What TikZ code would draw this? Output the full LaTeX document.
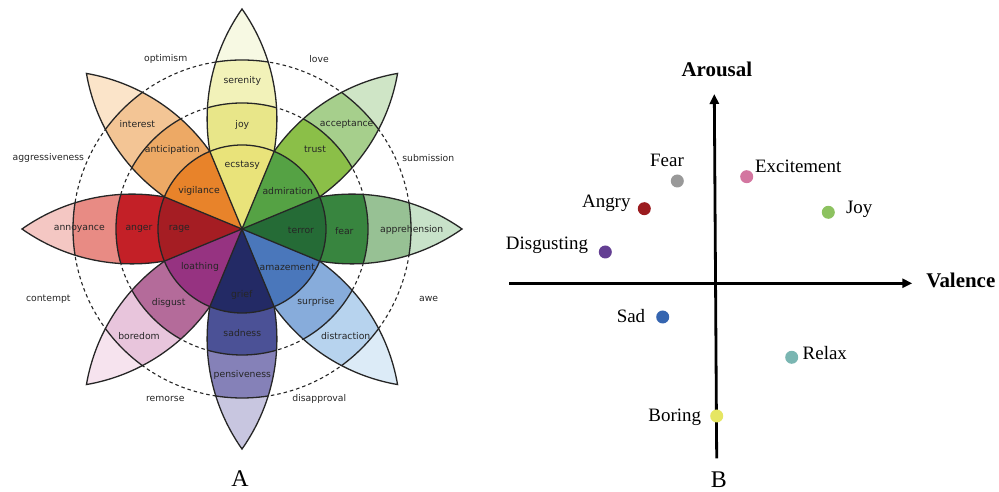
\documentclass[tikz,border=0pt]{standalone}
\usepackage{fontspec}
\setmainfont{Liberation Serif}
\newfontfamily\wheelfont{DejaVu Sans}
\usetikzlibrary{arrows.meta}
% inner ring
\definecolor{cEcst}{HTML}{E9E37A}\definecolor{cAdmi}{HTML}{55A244}
\definecolor{cTerr}{HTML}{256B36}\definecolor{cAmaz}{HTML}{4A77BB}
\definecolor{cGrie}{HTML}{232A65}\definecolor{cLoat}{HTML}{963381}
\definecolor{cRage}{HTML}{A51D23}\definecolor{cVigi}{HTML}{E8832A}
% second ring
\definecolor{cJoy}{HTML}{E8E689}\definecolor{cTrus}{HTML}{8BBF48}
\definecolor{cFear}{HTML}{38853F}\definecolor{cSurp}{HTML}{87ACDB}
\definecolor{cSadn}{HTML}{4B5196}\definecolor{cDisg}{HTML}{B46B9A}
\definecolor{cAnge}{HTML}{C32027}\definecolor{cAnti}{HTML}{EDA965}
% third ring
\definecolor{cSere}{HTML}{F2F2B9}\definecolor{cAcce}{HTML}{A6CF8C}
\definecolor{cAppr}{HTML}{97C194}\definecolor{cDist}{HTML}{B7D3EE}
\definecolor{cPens}{HTML}{8581B8}\definecolor{cBore}{HTML}{E8C5DC}
\definecolor{cAnno}{HTML}{E88B84}\definecolor{cInte}{HTML}{F3C595}
% tips
\definecolor{tJoy}{HTML}{F7F9E3}\definecolor{tTrus}{HTML}{CFE5C6}
\definecolor{tFear}{HTML}{C8E2C9}\definecolor{tSurp}{HTML}{DCEBF7}
\definecolor{tSadn}{HTML}{C8C6E0}\definecolor{tDisg}{HTML}{F6E3EE}
\definecolor{tAnge}{HTML}{F4C7C3}\definecolor{tAnti}{HTML}{FBE4C9}
% dots
\definecolor{dFear}{HTML}{999999}\definecolor{dExci}{HTML}{D376A0}
\definecolor{dAngr}{HTML}{9B1B1F}\definecolor{dJoy}{HTML}{8DC260}
\definecolor{dDisg}{HTML}{643F93}\definecolor{dSad}{HTML}{3565B0}
\definecolor{dRela}{HTML}{7AB6B2}\definecolor{dBori}{HTML}{E6E663}
\newcommand{\petalshape}{(0,0) arc[start angle=125.19,end angle=54.81,radius=190.88] arc[start angle=-54.81,end angle=-125.19,radius=190.88] -- cycle}
\newcommand{\mypetal}[4]{%
\begin{scope}[shift={(wc)},rotate=#1]
\fill[#2] \petalshape;
\begin{scope}\clip (0,0) circle[radius=169]; \fill[#3] \petalshape; \end{scope}
\begin{scope}\clip (0,0) circle[radius=126]; \fill[#4] \petalshape; \end{scope}
\begin{scope}\clip \petalshape; \draw[outline] (0,0) circle[radius=169] (0,0) circle[radius=126]; \end{scope}
\draw[outline] \petalshape;
\end{scope}}
\begin{document}
\begin{tikzpicture}[x=1bp,y=1bp,
  outline/.style={draw=black!85,line width=1.3bp},
  dashcirc/.style={draw=black!85,line width=1.1bp,dash pattern=on 3.5bp off 3bp},
  wlab/.style={font=\wheelfont\fontsize{9.3}{11}\selectfont,text=black!85,inner sep=0pt},
  blab/.style={font=\fontsize{19}{22}\selectfont,inner sep=0pt},
  axlab/.style={font=\bfseries\fontsize{21}{24}\selectfont,inner sep=0pt},
  panlab/.style={font=\fontsize{24}{28}\selectfont,inner sep=0pt},
  dot/.style={circle,inner sep=0pt,minimum size=13bp},
  axis/.style={line width=2.8bp,-{Triangle[length=10bp,width=9bp]}}]
\useasboundingbox (0,0) rectangle (999,492);
\fill[white] (0,0) rectangle (999,492);
% ---------- Panel A: wheel ----------
\coordinate (wc) at (242,263);
\draw[dashcirc] (wc) circle[radius=126];
\draw[dashcirc] (wc) circle[radius=169];
\mypetal{90}{tJoy}{cSere}{cJoy}
\mypetal{45}{tTrus}{cAcce}{cTrus}
\mypetal{0}{tFear}{cAppr}{cFear}
\mypetal{-45}{tSurp}{cDist}{cSurp}
\mypetal{-90}{tSadn}{cPens}{cSadn}
\mypetal{-135}{tDisg}{cBore}{cDisg}
\mypetal{180}{tAnge}{cAnno}{cAnge}
\mypetal{135}{tAnti}{cInte}{cAnti}
\foreach \a/\c in {90/cEcst,45/cAdmi,0/cTerr,-45/cAmaz,-90/cGrie,-135/cLoat,180/cRage,135/cVigi}{
  \fill[\c] (wc) -- ++(\a-22.5:84) arc[start angle=\a-22.5,end angle=\a+22.5,radius=84] -- cycle;
}
\foreach \a in {22.5,67.5,112.5,157.5,202.5,247.5,292.5,337.5}{
  \draw[outline] (wc) -- ++(\a:84);
}
\draw[outline] (wc) circle[radius=84];
% wheel labels
\node[wlab] (serenity) at (242.3,411) {serenity};
\node[wlab] (joy) at (242.3,367) {joy};
\node[wlab] (ecstasy) at (242.3,326.3) {ecstasy};
\node[wlab] (acceptance) at (346.7,368) {acceptance};
\node[wlab] (trust) at (315,342.3) {trust};
\node[wlab] (admiration) at (287.7,301) {admiration};
\node[wlab] (apprehension) at (411.7,262.3) {apprehension};
\node[wlab] (fear) at (344.3,261.3) {fear};
\node[wlab] (terror) at (301,262) {terror};
\node[wlab] (amazement) at (287.3,225) {amazement};
\node[wlab] (surprise) at (316,189.7) {surprise};
\node[wlab] (distraction) at (345.7,156) {distraction};
\node[wlab] (grief) at (241.7,197.3) {grief};
\node[wlab] (sadness) at (242.3,159.3) {sadness};
\node[wlab] (pensiveness) at (242.3,116.7) {pensiveness};
\node[wlab] (loathing) at (200,225) {loathing};
\node[wlab] (disgust) at (168.7,189) {disgust};
\node[wlab] (boredom) at (139,156) {boredom};
\node[wlab] (rage) at (179.3,263.3) {rage};
\node[wlab] (anger) at (139,263.3) {anger};
\node[wlab] (annoyance) at (79.3,263.3) {annoyance};
\node[wlab] (vigilance) at (199,301) {vigilance};
\node[wlab] (anticipation) at (172.3,342.3) {anticipation};
\node[wlab] (interest) at (137.3,368) {interest};
\node[wlab] (optimism) at (165.7,432.7) {optimism};
\node[wlab] (love) at (319,432.7) {love};
\node[wlab] (submission) at (428.3,333.7) {submission};
\node[wlab] (awe) at (428.7,192.7) {awe};
\node[wlab] (disapproval) at (319.3,93) {disapproval};
\node[wlab] (remorse) at (165.3,93) {remorse};
\node[wlab] (contempt) at (48.3,192.7) {contempt};
\node[wlab] (aggressiveness) at (48.3,333.7) {aggressiveness};
\node[panlab] (labA) at (240,13) {A};
% ---------- Panel B: valence-arousal ----------
\coordinate (hstart) at (509.3,208.7);
\coordinate (hend) at (912.3,208.7);
\coordinate (vstart) at (716.7,33.7);
\coordinate (vend) at (714.3,398);
\draw[axis] (hstart) -- (hend);
\draw[axis] (vstart) -- (vend);
\node[axlab] (arousal) at (716.8,422.3) {Arousal};
\node[axlab] (valence) at (960.8,211.7) {Valence};
\node[dot,fill=dFear] (dfear) at (677.3,311) {};
\node[dot,fill=dExci] (dexci) at (746.7,315.3) {};
\node[dot,fill=dAngr] (dangr) at (644.3,283.3) {};
\node[dot,fill=dJoy] (djoy) at (828.3,279.7) {};
\node[dot,fill=dDisg] (ddisg) at (605.3,240) {};
\node[dot,fill=dSad] (dsad) at (662.7,175) {};
\node[dot,fill=dRela] (drela) at (791.7,134.7) {};
\node[dot,fill=dBori] (dbori) at (716.7,76) {};
\node[blab] (lfear) at (667,331.5) {Fear};
\node[blab] (lexci) at (798.2,325.8) {Excitement};
\node[blab] (langr) at (606.3,288.2) {Angry};
\node[blab] (ljoy) at (859.2,282.8) {Joy};
\node[blab] (ldisg) at (547,246.7) {Disgusting};
\node[blab] (lsad) at (631,176) {Sad};
\node[blab] (lrela) at (824.8,138.8) {Relax};
\node[blab] (lbori) at (674.7,74.5) {Boring};
\node[panlab] (labB) at (718.8,12) {B};
\end{tikzpicture}
\end{document}
